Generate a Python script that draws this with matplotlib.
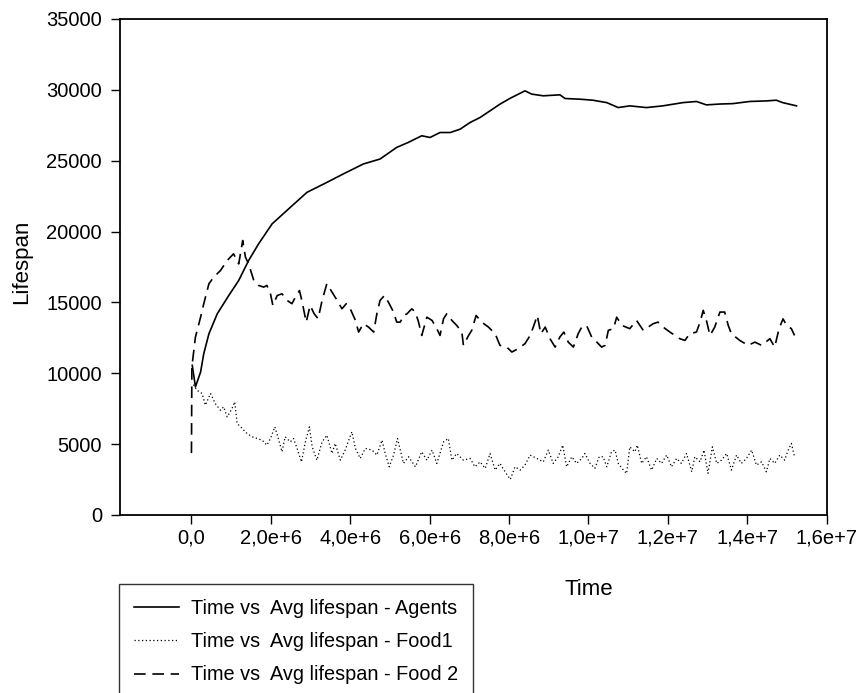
import matplotlib
matplotlib.use("Agg")
import matplotlib.pyplot as plt
from matplotlib.ticker import FuncFormatter, MultipleLocator
import numpy as np

plt.rcParams['font.family'] = ['Liberation Sans', 'DejaVu Sans']

# time in millions of steps, lifespan values
agents_t = [0.02, 0.10, 0.23, 0.31, 0.44, 0.65, 0.94, 1.19, 1.44, 1.69, 2.03, 2.49, 2.91,
            3.41, 3.82, 4.33, 4.75, 5.17, 5.46, 5.80, 6.01, 6.26, 6.52, 6.77, 7.02, 7.27,
            7.52, 7.77, 8.03, 8.40, 8.57, 8.86, 9.28, 9.41, 9.79, 10.11, 10.46, 10.75,
            11.04, 11.46, 11.87, 12.38, 12.72, 12.97, 13.31, 13.64, 14.06, 14.48, 14.73,
            14.89, 15.24]
agents_v = [10560, 9040, 10090, 11390, 12790, 14200, 15490, 16550, 17960, 19130, 20540,
            21710, 22770, 23470, 24060, 24770, 25120, 25940, 26290, 26760, 26640, 26990,
            26990, 27230, 27700, 28050, 28520, 28990, 29410, 29930, 29700, 29580, 29650,
            29390, 29340, 29270, 29100, 28750, 28870, 28750, 28870, 29100, 29180, 28940,
            29000, 29030, 29180, 29220, 29270, 29100, 28870]

food1_t = [0.05, 0.14, 0.27, 0.35, 0.48, 0.60, 0.73, 0.81, 0.90, 1.02, 1.09, 1.15, 1.28,
           1.40, 1.53, 1.65, 1.78, 1.90, 1.99, 2.10, 2.20, 2.28, 2.36, 2.49, 2.57, 2.66,
           2.77, 2.87, 2.97, 3.04, 3.16, 3.29, 3.41, 3.54, 3.62, 3.75, 3.87, 4.04, 4.13,
           4.25, 4.38, 4.55, 4.67, 4.80, 4.88, 4.98, 5.09, 5.19, 5.26, 5.34, 5.47, 5.64,
           5.80, 5.93, 6.06, 6.18, 6.35, 6.47, 6.56, 6.68, 6.85, 7.02, 7.14, 7.27, 7.40,
           7.52, 7.65, 7.77, 7.90, 8.03, 8.15, 8.28, 8.40, 8.53, 8.70, 8.86, 8.99, 9.11,
           9.24, 9.35, 9.45, 9.58, 9.70, 9.83, 9.91, 10.04, 10.16, 10.27, 10.37, 10.46,
           10.58, 10.67, 10.75, 10.88, 10.96, 11.04, 11.17, 11.23, 11.34, 11.46, 11.59,
           11.72, 11.84, 11.97, 12.09, 12.22, 12.34, 12.47, 12.60, 12.68, 12.81, 12.91,
           13.01, 13.12, 13.23, 13.35, 13.48, 13.60, 13.73, 13.85, 13.98, 14.11, 14.23,
           14.36, 14.48, 14.57, 14.69, 14.82, 14.94, 15.03, 15.11, 15.19]
food1_v = [9200, 8800, 8570, 7750, 8570, 7860, 7390, 7630, 6920, 7510, 7980, 6460, 6100,
           5750, 5520, 5400, 5280, 4930, 5400, 6220, 5280, 4460, 5520, 5160, 5400, 4700,
           3750, 5160, 6220, 4810, 3870, 5160, 5630, 4340, 5050, 3870, 4580, 5870, 4700,
           3990, 4700, 4580, 4230, 5280, 4340, 3400, 4230, 5400, 4580, 3640, 4110, 3400,
           4460, 3870, 4580, 3640, 5160, 5400, 3870, 4340, 3870, 3990, 3400, 3750, 3290,
           4340, 3170, 3640, 3050, 2510, 3400, 3170, 3520, 4230, 3990, 3750, 4580, 3640,
           4110, 4930, 3400, 4110, 3640, 3990, 4340, 3640, 3290, 4110, 4110, 3400,
           4460, 4580, 3640, 3170, 2930, 4810, 4460, 4930, 3640, 4110, 3170,
           3990, 3640, 4230, 3400, 3990, 3640, 4340, 3050, 4110, 3750, 4580,
           2930, 4810, 3640, 3870, 4340, 3170, 4230, 3640, 3990, 4580, 3520,
           3750, 3050, 3990, 3640, 4230, 3870, 4580, 5050, 4110]

food2_t = [0.0, 0.01, 0.10, 0.23, 0.31, 0.44, 0.56, 0.73, 0.90, 1.06, 1.19, 1.29, 1.36,
           1.44, 1.57, 1.69, 1.82, 1.90, 1.99, 2.05, 2.16, 2.28, 2.41, 2.53, 2.62, 2.72,
           2.78, 2.89, 2.99, 3.09, 3.19, 3.29, 3.41, 3.54, 3.67, 3.79, 3.90, 4.00, 4.13,
           4.21, 4.33, 4.46, 4.59, 4.67, 4.75, 4.86, 4.96, 5.09, 5.17,
           5.26, 5.34, 5.43, 5.55, 5.64, 5.72, 5.80, 5.93, 6.06, 6.18, 6.26, 6.35, 6.43,
           6.56, 6.68, 6.81, 6.85, 6.98, 7.06, 7.17, 7.31, 7.48, 7.65, 7.77, 7.94, 8.07,
           8.23, 8.40, 8.53, 8.61, 8.71, 8.80, 8.91, 9.03, 9.16, 9.28, 9.38, 9.49, 9.62,
           9.74, 9.83, 9.95, 10.08, 10.21, 10.33, 10.42, 10.50, 10.63, 10.71, 10.84,
           11.04, 11.21, 11.38, 11.63, 11.75, 11.88, 12.05, 12.30, 12.43, 12.55, 12.72,
           12.81, 12.89, 12.97, 13.06, 13.18, 13.31, 13.43, 13.52, 13.60, 13.81, 14.02,
           14.19, 14.36, 14.57, 14.69, 14.80, 14.90, 14.99, 15.11, 15.19]
food2_v = [4370, 10440, 12560, 13960, 14910, 16320, 16780, 17250, 17960, 18430, 17720,
           19370, 18190,
           17720, 16550, 16200, 16080, 16200, 15610, 14790, 15490, 15610, 15140, 14910,
           15380, 15840, 15140, 13610, 14790, 14200, 13850, 15140, 16320, 15730, 15140,
           14550, 14910, 14550, 13730, 12910, 13500, 13260, 12910, 14200, 15140, 15490,
           15020, 14320, 13610,
           13610, 14080, 14200, 14550, 14320, 13610, 12670, 13960, 13730, 13150, 12670,
           13850, 14200, 13730, 13380, 12910, 11970, 12670, 13030, 14080, 13610, 13260,
           12790, 11970, 11850, 11500, 11740, 12090, 12670, 13260, 14080, 12790, 13260,
           12440, 11850, 12560, 12910, 12200, 11850, 12790, 13260, 13380, 12560, 12200,
           11850, 11970, 13030, 13150, 13960, 13380, 13150, 13730, 13030, 13500, 13610,
           13260, 12910, 12440, 12320, 12790, 12910, 13610, 14440, 13730, 12670, 13260,
           14320, 14320, 13380, 12790, 12320, 11970, 12200, 11970, 12440, 11850, 13150,
           13840, 13380, 13150, 12670]

labels = ["Time vs  Avg lifespan - Agents",
          "Time vs  Avg lifespan - Food1",
          "Time vs  Avg lifespan - Food 2"]


def sci_comma(v, pos):
    if v == 0:
        return "0,0"
    e = int(np.floor(np.log10(abs(v))))
    m = v / 10 ** e
    return f"{m:.1f}".replace(".", ",") + f"e+{e}"


fig = plt.figure(figsize=(8.58, 6.93), dpi=100)
ax = fig.add_axes([120 / 858, 178 / 693, 706.7 / 858, 496 / 693])

ax.plot(np.array(agents_t) * 1e6, agents_v, color="black", lw=1.2,
        linestyle="-", label=labels[0])
ax.plot(np.array(food1_t) * 1e6, food1_v, color="black", lw=0.9,
        linestyle=(0, (1, 2)), label=labels[1])
ax.plot(np.array(food2_t) * 1e6, food2_v, color="black", lw=1.2,
        linestyle=(0, (7, 4)), label=labels[2])

ax.set_xlim(-1.8e6, 1.6e7)
ax.set_ylim(0, 35000)
ax.yaxis.set_major_locator(MultipleLocator(5000))
ax.xaxis.set_major_formatter(FuncFormatter(sci_comma))
ax.set_xticks(np.arange(0, 1.6e7 + 1, 2e6))

ax.tick_params(direction="out", length=6.5, width=1, labelsize=14.5)
ax.tick_params(axis="x", pad=3)
ax.tick_params(axis="y", pad=6.5)
for s in ax.spines.values():
    s.set_linewidth(1.3)

ax.set_xlabel("Time", fontsize=16)
ax.xaxis.set_label_coords(469 / 706.7, -0.13)
ax.set_ylabel("Lifespan", fontsize=16)
ax.yaxis.set_label_coords(-0.125, 0.51)

leg = fig.legend(loc="upper left", bbox_to_anchor=(119.3 / 858, 1 - 584 / 693),
                 fontsize=14.3, frameon=True, fancybox=False, edgecolor="black",
                 handlelength=2.25, handletextpad=0.6, borderpad=0.75,
                 labelspacing=0.72, borderaxespad=0)
leg.get_frame().set_linewidth(1.0)

fig.savefig("out.png", dpi=100)
